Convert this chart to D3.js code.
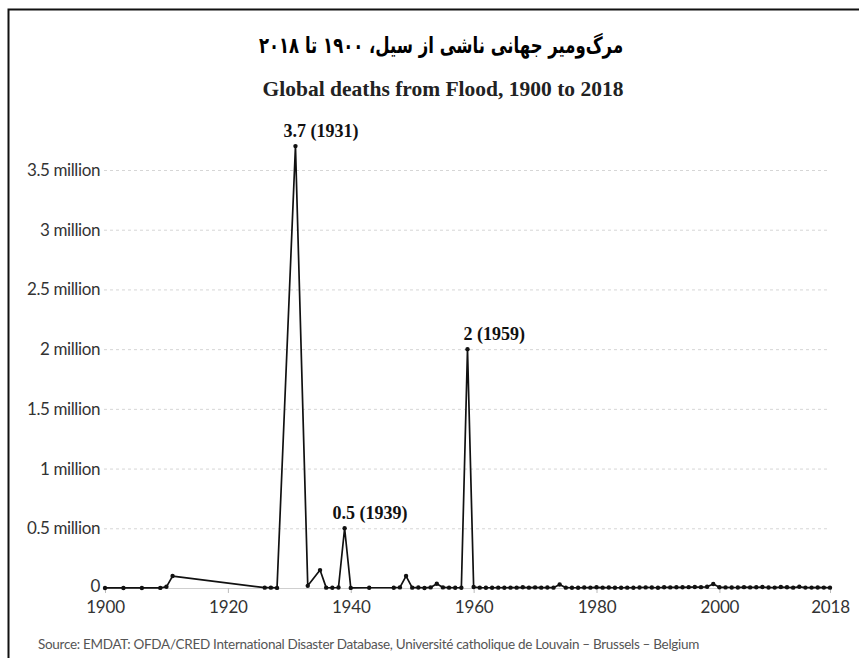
<!DOCTYPE html>
<html>
<head>
<meta charset="utf-8">
<script src="https://cdn.jsdelivr.net/npm/d3@7"></script>
<style>
  body { margin: 0; background: #fff; }
  svg { display: block; }
</style>
</head>
<body>
<div id="chart"></div>
<script>
// data
const years = [1900, 1903, 1906, 1909, 1910, 1911, 1926, 1927, 1928, 1931, 1933, 1935, 1936, 1937, 1938, 1939, 1940, 1943,
  1947, 1948, 1949, 1950, 1951, 1952, 1953, 1954, 1955, 1956, 1957, 1958, 1959,
  1960, 1961, 1962, 1963, 1964, 1965, 1966, 1967, 1968, 1969, 1970, 1971, 1972, 1973, 1974, 1975, 1976, 1977, 1978, 1979,
  1980, 1981, 1982, 1983, 1984, 1985, 1986, 1987, 1988, 1989, 1990, 1991, 1992, 1993, 1994, 1995, 1996, 1997, 1998, 1999,
  2000, 2001, 2002, 2003, 2004, 2005, 2006, 2007, 2008, 2009, 2010, 2011, 2012, 2013, 2014, 2015, 2016, 2017, 2018]
const deaths = [300, 500, 400, 1000, 10000, 100000, 3000, 3000, 1000, 3700000, 18000, 150000, 3000, 2000, 4000, 500000, 1000, 2000,
  2000, 5000, 100000, 3000, 4000, 500, 5000, 35000, 5000, 3000, 2000, 2000, 2000000,
  8000, 3000, 2000, 2000, 3000, 2000, 3000, 3000, 6000, 3000, 5000, 3000, 4000, 3000, 29000, 3000, 2000, 2000, 4000, 3000,
  6000, 3000, 4000, 2000, 2000, 3000, 2000, 4000, 5000, 4000, 2000, 6000, 5000, 6000, 6000, 7000, 8000, 7000, 10000, 34000,
  6000, 5000, 4000, 4000, 7000, 5000, 6000, 8000, 4000, 3500, 8000, 6000, 3000, 10000, 3500, 3500, 4700, 3300, 2900]

const yTicks = [0, 500000, 1000000, 1500000, 2000000, 2500000, 3000000, 3500000]
const yTickLabels = ["0", "0.5 million", "1 million", "1.5 million", "2 million", "2.5 million", "3 million", "3.5 million"]
const xTicks = [1900, 1920, 1940, 1960, 1980, 2000, 2018]

const noteYears = [1931, 1959, 1939]
const noteLabels = ["3.7 (1931)", "2 (1959)", "0.5 (1939)"]

const titleFa = "مرگ‌ومیر جهانی ناشی از سیل، ۱۹۰۰ تا ۲۰۱۸"
const titleEn = "Global deaths from Flood, 1900 to 2018"
const sourceText = "Source: EMDAT: OFDA/CRED International Disaster Database, Université catholique de Louvain – Brussels – Belgium"

// size
const width = 859, height = 658

const svg = d3.select("#chart").append("svg")
  .attr("width", width)
  .attr("height", height)

// frame (only top and left edges show in the picture)
svg.append("path")
  .attr("d", "M8.5," + height + "V9.5H" + width)
  .attr("fill", "none")
  .attr("stroke", "#111")
  .attr("stroke-width", 2)

const x = d3.scaleLinear().domain([1900, 2018]).range([105, 830])
const y = d3.scaleLinear().domain([0, 3500000]).range([588, 170])

// grid lines
svg.append("g")
  .selectAll("line")
  .data(yTicks)
  .join("line")
  .attr("x1", 104)
  .attr("x2", 830)
  .attr("y1", d => y(d) + 0.5)
  .attr("y2", d => y(d) + 0.5)
  .attr("stroke", d => d === 0 ? "#cfcfcf" : "#d6d6d6")
  .attr("stroke-dasharray", d => d === 0 ? null : "3,3")

// y axis
const yAxis = d3.axisLeft(y)
  .tickValues(yTicks)
  .tickFormat((d, i) => yTickLabels[i])
  .tickSize(0)
  .tickPadding(0)

svg.append("g")
  .attr("transform", "translate(100,0)")
  .call(yAxis)
  .call(g => g.select(".domain").remove())
  .call(g => g.selectAll("text")
    .attr("font-family", "Lato, sans-serif")
    .attr("font-size", 17)
    .attr("fill", "#333")
    .attr("letter-spacing", -0.4))
  // the zero label sits right above 1900, nudge it up a little
  .call(g => g.selectAll(".tick").filter(d => d === 0).select("text").attr("dy", "0.2em"))

// x axis
const xAxis = d3.axisBottom(x)
  .tickValues(xTicks)
  .tickFormat(d3.format("d"))
  .tickSize(5)
  .tickPadding(8)

svg.append("g")
  .attr("transform", "translate(0,588)")
  .call(xAxis)
  .call(g => g.select(".domain").remove())
  .call(g => g.selectAll("line").attr("stroke", "#bbb"))
  .call(g => g.selectAll("text")
    .attr("font-family", "Lato, sans-serif")
    .attr("font-size", 17)
    .attr("fill", "#333")
    .attr("letter-spacing", -0.2))

// line + dots
const data = years.map((yr, i) => ({year: yr, value: deaths[i]}))

svg.append("path")
  .datum(data)
  .attr("fill", "none")
  .attr("stroke", "#111")
  .attr("stroke-width", 1.7)
  .attr("stroke-linejoin", "round")
  .attr("d", d3.line()
    .x(d => x(d.year))
    .y(d => y(d.value)))

svg.append("g")
  .selectAll("circle")
  .data(data)
  .join("circle")
  .attr("cx", d => x(d.year))
  .attr("cy", d => y(d.value))
  .attr("r", 2.2)
  .attr("fill", "#111")

// peak labels
const noteShift = {1931: -12, 1959: -4, 1939: -12}
noteYears.forEach(function (yr, i) {
  const v = deaths[years.indexOf(yr)]
  svg.append("text")
    .attr("x", x(yr) + noteShift[yr])
    .attr("y", y(v) - 9)
    .attr("font-family", "'Liberation Serif', 'Times New Roman', serif")
    .attr("font-weight", "bold")
    .attr("font-size", 18)
    .attr("fill", "#111")
    .text(noteLabels[i])
})

// titles
svg.append("text")
  .attr("transform", "translate(441,53) scale(1,1.35)")
  .attr("text-anchor", "middle")
  .attr("direction", "rtl")
  .attr("font-family", "'DejaVu Sans', sans-serif")
  .attr("font-weight", "bold")
  .attr("font-size", 16.5)
  .attr("fill", "#000")
  .text(titleFa)

svg.append("text")
  .attr("x", 443)
  .attr("y", 96)
  .attr("text-anchor", "middle")
  .attr("font-family", "'Liberation Serif', 'Times New Roman', serif")
  .attr("font-weight", "bold")
  .attr("font-size", 21.5)
  .attr("fill", "#222")
  .text(titleEn)

// source
svg.append("text")
  .attr("x", 38)
  .attr("y", 649)
  .attr("font-family", "Lato, sans-serif")
  .attr("font-size", 13.5)
  .attr("fill", "#555")
  .attr("letter-spacing", -0.3)
  .text(sourceText)
</script>
</body>
</html>
